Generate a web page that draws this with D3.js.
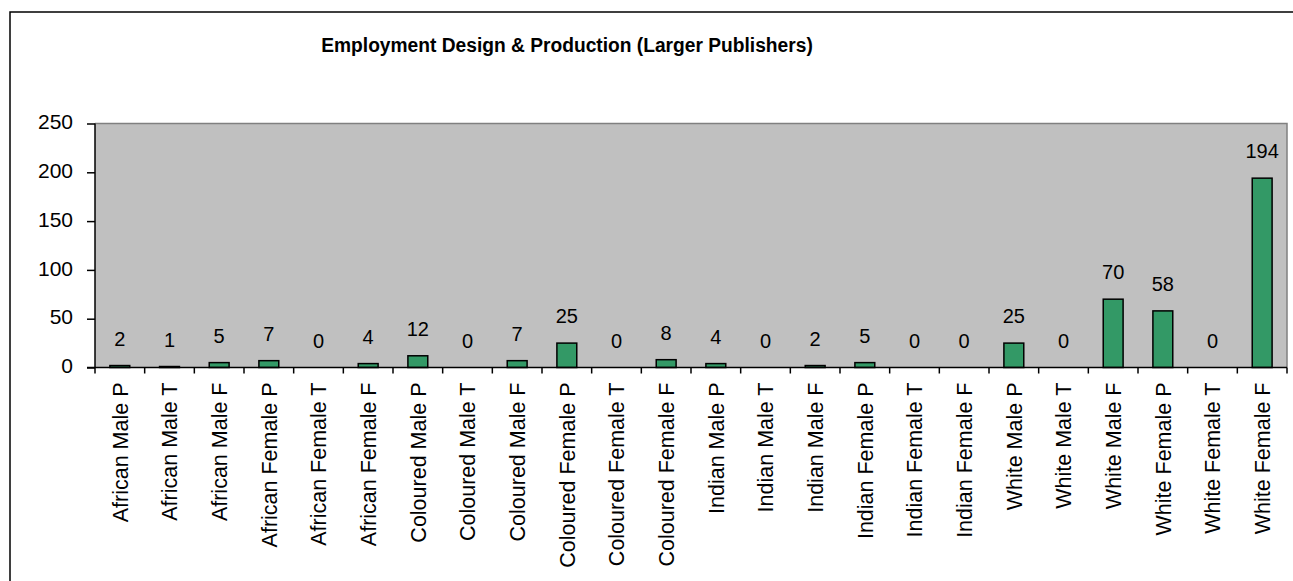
<!DOCTYPE html>
<html>
<head>
<meta charset="utf-8">
<script src="https://cdn.jsdelivr.net/npm/d3@7"></script>
<style>
  html, body { margin: 0; padding: 0; background: #ffffff; }
  svg { display: block; }
  text { font-family: "Liberation Sans", Arial, sans-serif; fill: #000; }
</style>
</head>
<body>
<svg id="chart" width="1293" height="581"></svg>
<script>
// Employment counts by group (P / T / F)
const categories = [
  "African Male P", "African Male T", "African Male F",
  "African Female P", "African Female T", "African Female F",
  "Coloured Male P", "Coloured Male T", "Coloured Male F",
  "Coloured Female P", "Coloured Female T", "Coloured Female F",
  "Indian Male P", "Indian Male T", "Indian Male F",
  "Indian Female P", "Indian Female T", "Indian Female F",
  "White Male P", "White Male T", "White Male F",
  "White Female P", "White Female T", "White Female F"
];
const values = [2, 1, 5, 7, 0, 4, 12, 0, 7, 25, 0, 8, 4, 0, 2, 5, 0, 0, 25, 0, 70, 58, 0, 194];
const yTicks = [0, 50, 100, 150, 200, 250];
const title = "Employment Design & Production (Larger Publishers)";

const svg = d3.select("#chart");

// outer chart frame (runs off the right and bottom edges)
svg.append("rect")
  .attr("x", 10).attr("y", 12)
  .attr("width", 1300).attr("height", 600)
  .attr("fill", "#fff").attr("stroke", "#000").attr("stroke-width", 1.5);

const plot = { left: 95, right: 1287, top: 123.5, bottom: 367.5 };

const x = d3.scaleBand().domain(categories).range([plot.left, plot.right]).padding(0);
const y = d3.scaleLinear().domain([0, 250]).range([plot.bottom, plot.top]);

// plot background
svg.append("rect")
  .attr("x", plot.left).attr("y", plot.top)
  .attr("width", plot.right - plot.left).attr("height", plot.bottom - plot.top)
  .attr("fill", "#c0c0c0");

// gray frame on top and right
svg.append("path")
  .attr("d", `M${plot.left},${plot.top}H${plot.right}V${plot.bottom}`)
  .attr("fill", "none").attr("stroke", "#808080").attr("stroke-width", 1.5);

// title (slightly tall, narrow lettering)
svg.append("text")
  .attr("transform", "translate(567,52) scale(1,1.1)")
  .attr("text-anchor", "middle")
  .style("font-size", "19.2px").style("font-weight", "bold")
  .text(title);

// bars
const barW = x.bandwidth() * 0.4;
svg.append("g").selectAll("rect")
  .data(values)
  .join("rect")
  .attr("x", (d, i) => x(categories[i]) + (x.bandwidth() - barW) / 2)
  .attr("y", d => y(d))
  .attr("width", barW)
  .attr("height", d => y(0) - y(d))
  .attr("fill", "#339966")
  .attr("stroke", "#000").attr("stroke-width", 1.5);

// value labels
svg.append("g").selectAll("text")
  .data(values)
  .join("text")
  .attr("x", (d, i) => x(categories[i]) + x.bandwidth() / 2)
  .attr("y", d => y(d) - 20)
  .attr("text-anchor", "middle")
  .style("font-size", "20px")
  .text(d => d);

// y axis
const yAxis = svg.append("g")
  .attr("transform", `translate(${plot.left},0)`)
  .call(d3.axisLeft(y).tickValues(yTicks).tickSize(8).tickPadding(14));
yAxis.selectAll("path, line").attr("stroke", "#000").attr("stroke-width", 1.5);
yAxis.select(".domain").attr("d", `M0,${plot.top}V${plot.bottom}`);
yAxis.selectAll("text")
  .attr("dy", "0.25em")
  .style("font-size", "21px")
  .style("font-family", "'Liberation Sans', Arial, sans-serif");

// x axis with boundary ticks between categories
const xg = svg.append("g");
xg.append("line")
  .attr("x1", plot.left - 8).attr("x2", plot.right)
  .attr("y1", plot.bottom).attr("y2", plot.bottom)
  .attr("stroke", "#000").attr("stroke-width", 1.5);
const bounds = categories.map(c => x(c)).concat([x.range()[1]]);
xg.selectAll("line.tick")
  .data(bounds)
  .join("line")
  .attr("class", "tick")
  .attr("x1", d => d).attr("x2", d => d)
  .attr("y1", plot.bottom).attr("y2", plot.bottom + 6)
  .attr("stroke", "#000").attr("stroke-width", 1.5);

xg.selectAll("text")
  .data(categories)
  .join("text")
  .attr("transform", d => `translate(${x(d) + x.bandwidth() / 2},${plot.bottom + 15}) rotate(-90)`)
  .attr("dy", "0.36em")
  .attr("text-anchor", "end")
  .style("font-size", "21.5px")
  .text(d => d);
</script>
</body>
</html>
